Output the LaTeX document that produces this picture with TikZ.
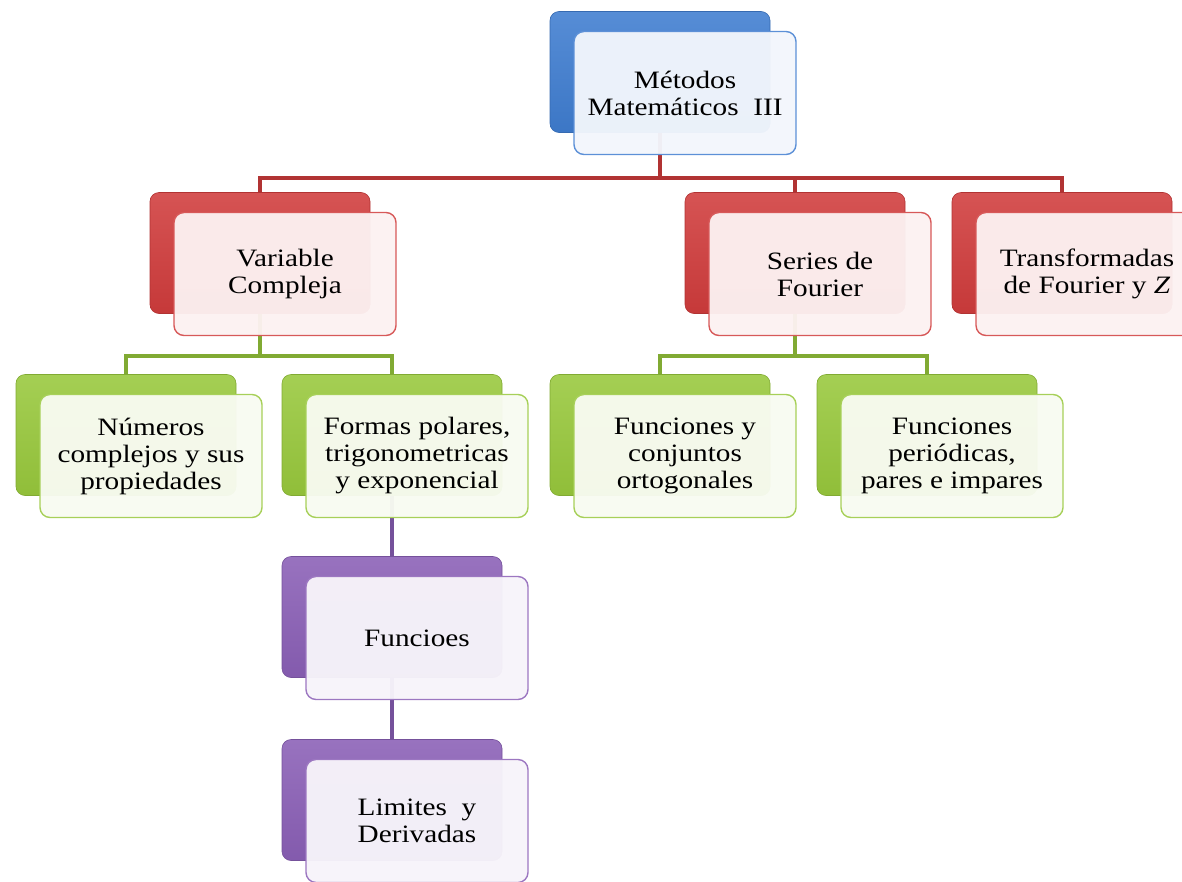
\documentclass[tikz,border=0pt]{standalone}
\usepackage{fontspec}
\setmainfont{Liberation Serif}[FakeStretch=1.17]
\usetikzlibrary{backgrounds}

\definecolor{blu}{HTML}{3F7DD0}
\definecolor{rd}{HTML}{D03C3C}
\definecolor{grn}{HTML}{98C83C}
\definecolor{prp}{HTML}{8A5FB6}

\tikzset{
  every box/.style={rectangle, inner sep=0pt, outer sep=0pt},
  back box/.style={every box, rounded corners=9pt,
    minimum width=220pt, minimum height=121pt,
    draw=#1!85!black, line width=0.6pt,
    top color=#1!88!white, bottom color=#1!95!black},
  front box/.style={every box, rounded corners=10pt,
    minimum width=222pt, minimum height=123pt,
    draw=#1!85!white, line width=1.4pt, fill=#1!7!white, fill opacity=0.96,
    text opacity=1, align=center, font=\fontsize{25}{27}\selectfont},
  link/.style={draw=#1!85!black, line width=4.5pt}
}

\begin{document}
\begin{tikzpicture}[x=1pt, y=-1pt]
\clip (0,0) rectangle (1182,881);
\foreach \n/\x/\y/\c/\t in {
    metodos/660/72/blu/{M\'etodos\\Matem\'aticos\ \ III},
    variable/260/253/rd/{Variable\\Compleja},
    series/795/253/rd/{Series de\\Fourier},
    transformadas/1062/253/rd/{Transformadas\\de Fourier y \textit{Z}},
    numeros/126/435/grn/{N\'umeros\\complejos y sus\\propiedades},
    formas/392/435/grn/{Formas polares,\\trigonometricas\\y exponencial},
    ortogonales/660/435/grn/{Funciones y\\conjuntos\\ortogonales},
    periodicas/927/435/grn/{Funciones\\peri\'odicas,\\pares e impares},
    funcioes/392/617/prp/{Funcioes},
    limites/392/800/prp/{Limites\ \ y\\Derivadas}}
{
  \node [back box=\c] (\n-b) at (\x,\y) {};
  \node [front box=\c] (\n) at (\x+25,\y+21) {\t};
}
\coordinate (redbus) at (0,178);
\coordinate (grnbus) at (0,356);
\begin{scope}[on background layer]
\foreach \k in {variable,series,transformadas}
  \draw [link=rd] (metodos-b.south) -- (metodos-b.south |- redbus) -| (\k-b.north);
\foreach \k in {numeros,formas}
  \draw [link=grn] (variable-b.south) -- (variable-b.south |- grnbus) -| (\k-b.north);
\foreach \k in {ortogonales,periodicas}
  \draw [link=grn] (series-b.south) -- (series-b.south |- grnbus) -| (\k-b.north);
\draw [link=prp] (formas-b.south) -- (funcioes-b.north);
\draw [link=prp] (funcioes-b.south) -- (limites-b.north);
\end{scope}
\end{tikzpicture}
\end{document}
